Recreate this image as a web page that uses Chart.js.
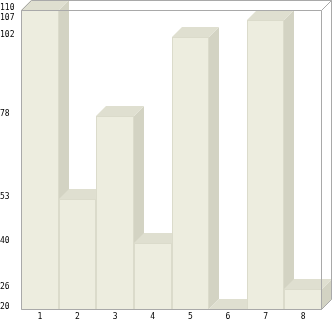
<!DOCTYPE html>
<html><head><meta charset="utf-8">
<script src="https://cdn.jsdelivr.net/npm/chart.js@4/dist/chart.umd.min.js"></script>
<style>html,body{margin:0;padding:0;background:#fff}#w{width:333px;height:321px;position:relative}</style>
</head><body><div id="w"><canvas id="c"></canvas></div>
<script>
const categories = ['1','2','3','4','5','6','7','8'];
const values = [110, 53, 78, 40, 102, 20, 107, 26];
const yTicks = [20, 26, 40, 53, 78, 102, 107, 110];

const D = 10;
const FRONT = '#EDEDDF', SIDE = '#D3D3C3', TOP = '#DFDFD0', EDGE = '#DBDBCB', FRAME = '#A9A9A9';

const bar3d = {
  id: 'bar3d',
  afterDatasetsDraw(chart) {
    const ctx = chart.ctx, a = chart.chartArea;
    const meta = chart.getDatasetMeta(0);
    ctx.save();
    ctx.fillStyle = '#fff';
    ctx.fillRect(a.left, a.top - D, a.right - a.left + D, a.bottom - a.top + D);
    meta.data.forEach(el => {
      const p = el.getProps(['x', 'y', 'base', 'width'], true);
      const l = Math.round(p.x - p.width / 2), r = Math.round(p.x + p.width / 2);
      const t = Math.round(Math.min(p.y, a.bottom)), b = Math.round(Math.min(p.base, a.bottom));
      // front
      ctx.fillStyle = FRONT;
      ctx.fillRect(l, t, r - l, b - t);
      ctx.strokeStyle = EDGE; ctx.lineWidth = 1;
      if (b > t) ctx.strokeRect(l + 0.5, t + 0.5, r - l - 1, b - t);
      // side
      ctx.fillStyle = SIDE;
      ctx.beginPath();
      ctx.moveTo(r, t); ctx.lineTo(r + D, t - D); ctx.lineTo(r + D, b - D); ctx.lineTo(r, b);
      ctx.closePath(); ctx.fill();
      // top
      ctx.fillStyle = TOP;
      ctx.beginPath();
      ctx.moveTo(l, t); ctx.lineTo(l + D, t - D); ctx.lineTo(r + D, t - D); ctx.lineTo(r, t);
      ctx.closePath(); ctx.fill();
    });
    // frame
    ctx.strokeStyle = FRAME; ctx.lineWidth = 1;
    const L = a.left + 0.5, R = a.right - 0.5, T = a.top + 0.5, B = a.bottom + 0.5;
    ctx.beginPath();
    ctx.moveTo(L, B); ctx.lineTo(L, T); ctx.lineTo(R, T); ctx.lineTo(R, B); ctx.lineTo(L, B);
    ctx.moveTo(L, T); ctx.lineTo(L + D, T - D); ctx.lineTo(R + D, T - D); ctx.lineTo(R + D, B - D); ctx.lineTo(R, B);
    ctx.moveTo(R, T); ctx.lineTo(R + D, T - D);
    ctx.stroke();
    ctx.restore();
  }
};

new Chart(document.getElementById('c'), {
  type: 'bar',
  data: { labels: categories, datasets: [{ data: values, backgroundColor: FRONT, barPercentage: 1, categoryPercentage: 1, borderWidth: 0 }] },
  options: {
    responsive: true, maintainAspectRatio: false, animation: false,
    layout: { padding: { top: 10, right: 11, left: 0, bottom: 0 } },
    plugins: { legend: { display: false }, tooltip: { enabled: false } },
    scales: {
      x: {
        grid: { display: false, drawTicks: false }, border: { display: false },
        ticks: { color: '#000', font: { family: 'DejaVu Sans Mono', size: 8 }, padding: 3, maxRotation: 0 },
        afterFit(s) { s.height = 12; }
      },
      y: {
        min: 20, max: 110,
        grid: { display: false, drawTicks: false }, border: { display: false },
        afterBuildTicks(s) { s.ticks = yTicks.map(v => ({ value: v })); },
        ticks: { color: '#000', font: { family: 'DejaVu Sans Mono', size: 8 }, padding: 0, crossAlign: 'far', labelOffset: -2, autoSkip: false },
        afterFit(s) { s.width = 21; }
      }
    }
  },
  plugins: [bar3d]
});
</script>
</body></html>
